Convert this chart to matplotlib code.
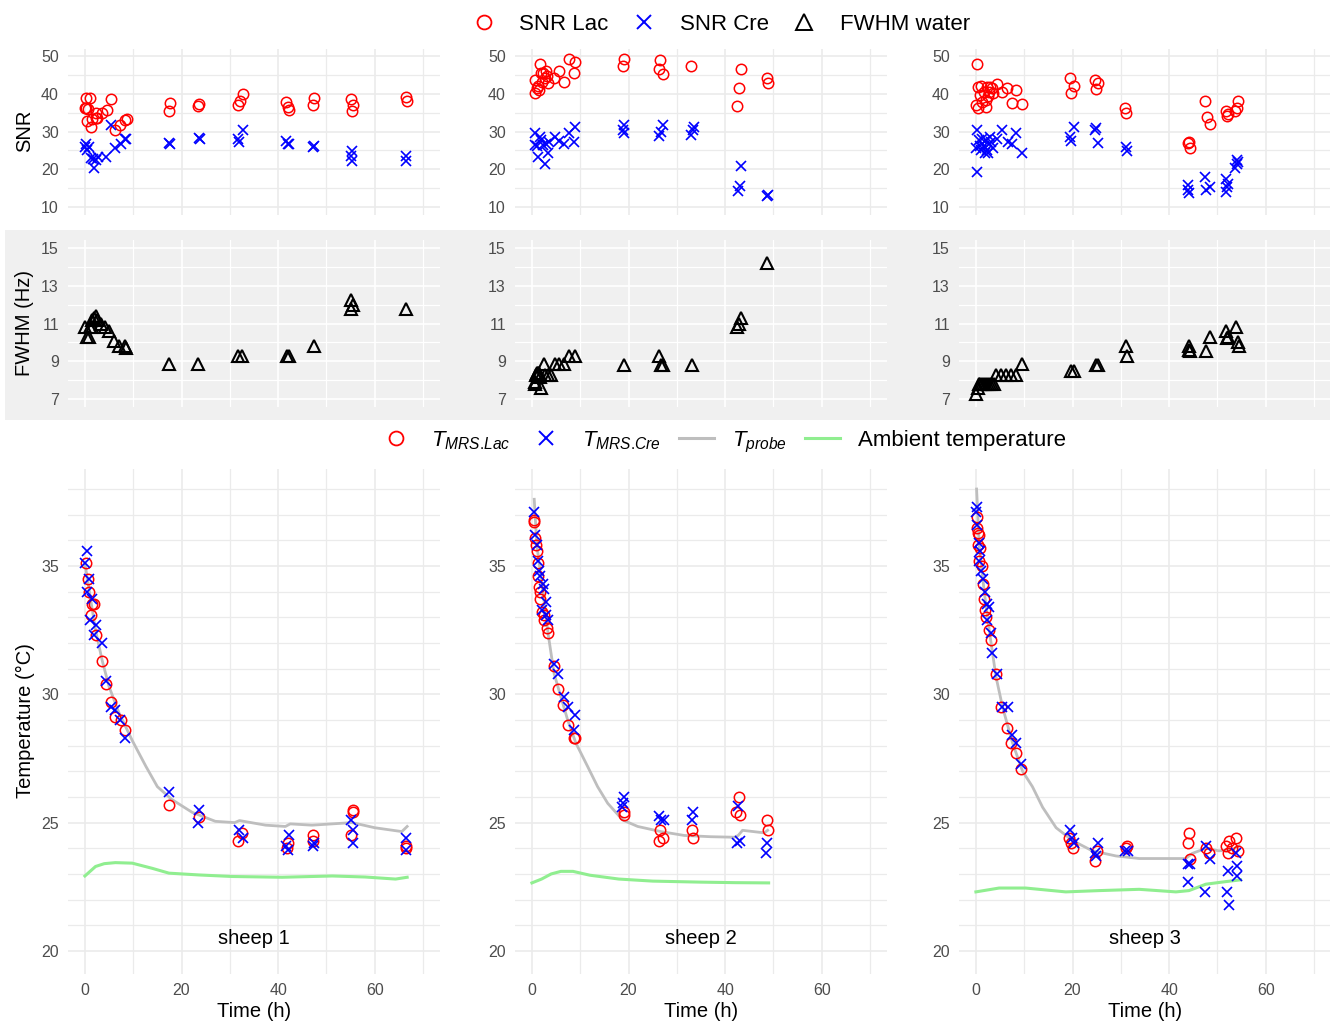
import matplotlib
matplotlib.use("Agg")
import matplotlib.pyplot as plt
from matplotlib.lines import Line2D
from matplotlib.patches import Rectangle

plt.rcParams["font.family"] = ["Liberation Sans", "DejaVu Sans"]
plt.rcParams["mathtext.fontset"] = "custom"
plt.rcParams["mathtext.rm"] = "Liberation Sans"
plt.rcParams["mathtext.it"] = "Liberation Sans:italic"

# ---------------- sheep 1 ----------------
s1_lac_t = [0, 0.28, 0.28, 0.69, 0.97, 0.48, 1.17, 1.52, 2.2, 2.2, 2.55, 3.45, 4.6, 5.45, 6.3, 7.2, 8.2, 8.75,
            17.4, 17.6, 23.4, 23.7, 31.7, 32.0, 32.7, 41.7, 42.0, 42.3, 47.2, 47.4, 55.0, 55.3, 55.5, 66.4, 66.6]
s1_lac = [36.1, 38.8, 36.1, 36.0, 38.8, 32.7, 31.1, 33.2, 33.5, 34.9, 33.6, 34.8, 35.8, 38.7, 30.5, 31.8, 33.0, 33.3,
          35.4, 37.5, 36.8, 37.4, 37.0, 38.0, 39.9, 37.9, 36.6, 35.7, 37.0, 38.8, 38.6, 35.5, 37.0, 39.2, 38.1]
s1_cre_t = [0, 0.28, 0.83, 0.48, 1.17, 1.86, 2.2, 1.72, 2.76, 4.3, 5.4, 6.3, 7.4, 8.3, 8.55,
            17.4, 17.6, 23.6, 23.8, 31.7, 31.9, 32.7, 41.7, 42.0, 42.3, 47.3, 47.4, 55.2, 55.0, 55.2, 66.4, 66.4]
s1_cre = [25.9, 26.8, 25.9, 25.0, 23.1, 20.2, 22.4, 22.8, 23.3, 23.3, 31.7, 25.7, 26.8, 27.9, 28.1,
          27.0, 26.6, 28.3, 28.0, 28.0, 27.3, 30.4, 27.5, 26.8, 26.6, 25.9, 26.1, 24.8, 23.5, 22.2, 23.5, 22.2]
s1_fw_t = [0, 0.48, 0.83, 1.0, 1.38, 1.5, 1.86, 2.2, 2.55, 3.24, 4.1, 4.97, 6.0, 7.03, 8.4, 8.6,
           17.5, 23.4, 31.7, 32.6, 41.9, 42.2, 47.4, 55.1, 55.4, 55.1, 66.5]
s1_fw = [10.8, 10.3, 10.3, 10.8, 10.8, 11.2, 11.3, 11.4, 11.2, 11.0, 10.8, 10.6, 10.1, 9.8, 9.8, 9.7,
         8.85, 8.85, 9.3, 9.3, 9.3, 9.3, 9.8, 12.25, 12.0, 11.76, 11.76]
s1_tlac_t = [0.28, 0.69, 0.83, 1.38, 1.86, 1.3, 2.2, 3.6, 4.4, 5.3, 6.2, 7.4, 8.4,
             17.4, 23.6, 31.7, 32.6, 42.0, 41.9, 47.2, 47.3, 55.0, 55.4, 55.5, 66.4, 66.5]
s1_tlac = [35.1, 34.5, 34.0, 33.5, 33.5, 33.1, 32.3, 31.3, 30.4, 29.7, 29.1, 29.0, 28.6,
           25.7, 25.2, 24.3, 24.6, 24.2, 24.0, 24.5, 24.3, 24.5, 25.4, 25.5, 24.1, 24.0]
s1_tcre_t = [0.4, 0, 0.83, 0.48, 1.38, 0.97, 2.3, 1.86, 3.6, 4.4, 5.3, 6.3, 7.2, 8.3,
             17.5, 23.6, 23.4, 31.9, 32.7, 42.2, 41.7, 42.0, 47.4, 47.3, 55.0, 55.4, 55.4, 66.4, 66.4]
s1_tcre = [35.6, 35.1, 34.5, 34.0, 33.7, 32.9, 32.7, 32.3, 32.0, 30.5, 29.5, 29.4, 29.0, 28.3,
           26.2, 25.5, 25.0, 24.7, 24.4, 24.5, 24.1, 23.95, 24.2, 24.1, 25.1, 24.7, 24.2, 24.4, 23.95]
s1_probe_t = [0, 2.2, 3.6, 5, 7, 9.8, 12.6, 15, 18, 22.2, 27, 31, 32, 37.4, 41.5, 42.5, 47, 55.3, 60, 65.6, 66.7]
s1_probe = [35.1, 32.5, 31.3, 30.3, 29.3, 28.2, 27.2, 26.4, 25.9, 25.4, 25.05, 25.0, 25.08, 24.9, 24.85, 24.95,
            24.9, 25.0, 24.8, 24.65, 24.85]
s1_amb_t = [0, 2.2, 4, 6.3, 9.8, 13.9, 17.4, 23.6, 30.5, 40.8, 51.2, 58, 64.3, 66.7]
s1_amb = [22.92, 23.29, 23.4, 23.44, 23.42, 23.22, 23.03, 22.96, 22.9, 22.87, 22.92, 22.88, 22.8, 22.87]

# ---------------- sheep 2 ----------------
s2_lac_t = [0.55, 0.69, 1.03, 1.24, 1.45, 1.59, 1.79, 2.07, 2.28, 2.62, 2.97, 3.17, 3.31, 4.55, 5.52, 6.55, 7.59,
            8.69, 8.83, 19.0, 18.8, 26.6, 26.4, 27.2, 33.0, 43.2, 42.8, 42.4, 48.7, 48.8]
s2_lac = [43.6, 40.1, 41.4, 42.0, 41.0, 47.9, 45.6, 43.2, 45.4, 44.3, 46.1, 44.7, 42.9, 44.3, 46.1, 43.2, 49.1,
          45.6, 48.5, 49.2, 47.4, 48.9, 46.5, 45.2, 47.3, 46.6, 41.4, 36.7, 44.3, 42.9]
s2_cre_t = [0.55, 0.55, 1.03, 1.24, 1.59, 1.93, 2.28, 2.62, 2.97, 3.31, 3.45, 4.69, 5.52, 6.55, 7.66, 8.69, 8.83,
            19.0, 19.0, 18.8, 26.4, 26.8, 27.1, 33.0, 33.3, 33.5, 42.6, 43.0, 43.3, 48.7, 48.9]
s2_cre = [29.6, 26.4, 26.1, 23.3, 28.6, 27.7, 26.4, 21.3, 26.6, 24.3, 27.3, 28.6, 27.5, 26.6, 29.6, 27.3, 31.1,
          29.6, 31.7, 30.4, 28.8, 30.0, 31.7, 29.0, 30.4, 31.1, 14.2, 15.5, 20.8, 12.9, 13.1]
s2_fw_t = [0.6, 0.69, 0.9, 1.0, 1.24, 1.4, 1.59, 1.93, 2.48, 2.62, 3.31, 3.86, 4.69, 5.52, 6.62, 7.59, 8.83,
           19.0, 26.4, 26.8, 27.1, 33.1, 42.5, 42.8, 43.3, 48.7]
s2_fw = [7.9, 7.8, 8.3, 8.4, 8.4, 8.4, 8.2, 7.6, 8.85, 8.3, 8.3, 8.3, 8.85, 8.85, 8.85, 9.3, 9.3,
         8.8, 9.3, 8.8, 8.8, 8.8, 10.8, 11.0, 11.3, 14.2]
s2_tlac_t = [0.48, 0.48, 0.62, 0.83, 1.03, 1.31, 1.31, 1.52, 1.72, 1.72, 2.0, 2.41, 2.55, 3.1, 3.38, 4.48, 5.45,
             6.34, 7.38, 8.62, 8.9, 18.97, 19.1, 26.55, 26.3, 27.2, 33.2, 33.4, 42.9, 42.2, 43.1, 48.6, 48.8]
s2_tlac = [36.8, 36.7, 36.1, 35.8, 35.6, 35.1, 34.6, 34.2, 34.0, 33.7, 33.2, 33.1, 32.9, 32.6, 32.4, 31.1, 30.2,
           29.6, 28.8, 28.3, 28.3, 25.4, 25.3, 24.7, 24.3, 24.4, 24.7, 24.4, 26.0, 25.4, 25.3, 25.1, 24.7]
s2_tcre_t = [0.48, 0.62, 1.03, 1.31, 1.52, 1.72, 2.2, 2.55, 2.9, 2.0, 2.9, 3.24, 4.62, 5.45, 6.69, 7.52, 8.9, 8.62,
             18.97, 18.76, 18.55, 26.3, 26.7, 27.4, 33.4, 33.2, 42.7, 42.55, 43.1, 48.6, 48.4]
s2_tcre = [37.1, 36.2, 35.8, 35.2, 34.8, 34.6, 34.3, 34.1, 33.6, 33.3, 33.1, 32.9, 31.2, 30.8, 29.9, 29.5, 29.2, 28.6,
           26.0, 25.75, 25.6, 25.25, 25.1, 25.1, 25.4, 25.1, 25.65, 24.2, 24.3, 24.2, 23.8]
s2_probe_t = [0.48, 1.03, 2.2, 3.4, 4.6, 6.0, 7.4, 9.1, 11.5, 13.6, 15.7, 18.8, 21.9, 26.7, 31.5, 37, 41.9, 42.7,
              43.6, 48.1, 48.8]
s2_probe = [37.6, 35.8, 34.1, 32.3, 30.8, 29.9, 29.0, 28.1, 27.2, 26.4, 25.75, 25.1, 24.85, 24.65, 24.5, 24.45,
            24.43, 24.5, 24.7, 24.6, 24.7]
s2_amb_t = [0, 2, 4, 6, 8.5, 12, 18, 25, 35, 42, 49]
s2_amb = [22.65, 22.8, 23.0, 23.1, 23.1, 22.95, 22.8, 22.72, 22.68, 22.66, 22.65]

# ---------------- sheep 3 ----------------
s3_lac_t = [0.28, 0.07, 0.41, 0.41, 0.76, 1.1, 1.31, 1.59, 2.0, 2.14, 2.28, 2.48, 2.69, 2.97, 3.24, 3.52, 4.34,
            5.38, 6.48, 7.52, 8.34, 9.52, 19.4, 19.7, 20.4, 24.6, 25.2, 24.9, 30.9, 31.1, 43.9, 44.2, 44.3,
            47.5, 47.9, 48.5, 51.7, 52.0, 52.2, 53.7, 54.0, 54.3]
s3_lac = [47.9, 37.0, 36.1, 41.9, 39.6, 42.1, 37.9, 40.5, 36.5, 38.3, 41.7, 39.4, 40.5, 41.9, 41.4, 40.3, 42.7,
          40.5, 41.4, 37.6, 41.0, 37.4, 44.1, 40.3, 42.0, 43.6, 42.9, 41.2, 36.1, 35.0, 27.0, 27.3, 25.5,
          38.1, 33.9, 32.1, 35.5, 34.1, 34.6, 35.5, 36.1, 38.1]
s3_cre_t = [0.21, 0.07, 0.28, 0.62, 0.9, 1.1, 1.31, 1.59, 1.79, 2.14, 2.28, 2.48, 2.69, 2.97, 3.17, 3.52, 4.34,
            5.45, 6.62, 7.52, 8.34, 9.59, 19.4, 19.7, 20.4, 24.6, 24.9, 25.2, 31.0, 31.2, 44.0, 44.0, 44.2,
            47.5, 47.6, 48.5, 51.8, 52.0, 52.2, 51.7, 53.7, 54.0, 54.3, 54.0]
s3_cre = [30.4, 25.5, 19.3, 27.7, 26.1, 25.0, 27.9, 26.1, 24.3, 27.7, 25.2, 24.2, 26.8, 28.6, 27.3, 25.7, 27.9,
          30.5, 27.3, 26.6, 29.5, 24.3, 28.6, 27.5, 31.1, 30.4, 30.8, 27.0, 25.9, 24.8, 15.8, 14.6, 13.7,
          18.0, 14.6, 15.3, 17.3, 15.3, 16.2, 14.0, 20.4, 21.3, 21.9, 22.4]
s3_fw_t = [0.07, 0.41, 0.62, 0.9, 1.3, 1.7, 2.1, 2.5, 2.9, 3.3, 3.8, 4.2, 5.2, 6.3, 7.3, 8.3, 9.6,
           19.7, 20.4, 24.9, 25.2, 31.0, 31.2, 44.2, 44.2, 44.3, 47.7, 48.4, 51.7, 52.0, 52.2, 53.9, 54.2, 54.4]
s3_fw = [7.3, 7.6, 7.8, 7.8, 7.8, 7.8, 7.8, 7.8, 7.8, 7.8, 7.8, 8.3, 8.3, 8.3, 8.3, 8.3, 8.85,
         8.5, 8.5, 8.8, 8.8, 9.8, 9.3, 9.8, 9.6, 9.55, 9.55, 10.3, 10.6, 10.25, 10.3, 10.8, 10.05, 9.8]
s3_tlac_t = [0.14, 0.14, 0.41, 0.69, 0.34, 0.83, 0.69, 1.24, 1.38, 1.72, 1.93, 2.07, 2.62, 3.1, 4.14, 5.17, 6.34,
             7.24, 8.28, 9.31, 19.3, 19.66, 20.1, 24.7, 25.0, 31.0, 31.2, 44.1, 44.0, 44.3, 47.6, 48.3,
             51.7, 52.3, 52.1, 53.9, 54.3, 53.1]
s3_tlac = [36.9, 36.5, 36.3, 36.2, 35.8, 35.7, 35.2, 35.0, 34.3, 33.7, 33.3, 33.0, 32.5, 32.1, 30.8, 29.5, 28.7,
           28.1, 27.7, 27.1, 24.4, 24.2, 24.0, 23.5, 23.9, 24.0, 24.1, 24.6, 24.2, 23.6, 24.0, 23.8,
           24.1, 24.3, 23.8, 24.4, 23.9, 24.0]
s3_tcre_t = [0.14, 0, 0.14, 0.55, 0.83, 0.69, 1.03, 1.52, 1.93, 2.2, 2.76, 2.2, 3.1, 3.31, 4.28, 5.38, 6.55, 7.45,
             8.28, 9.31, 19.4, 19.9, 20.3, 24.8, 25.2, 24.7, 30.9, 31.4, 44.0, 44.3, 43.9, 47.4, 47.7, 48.4,
             52.1, 51.9, 52.3, 53.9, 54.1, 54.1]
s3_tcre = [37.3, 37.1, 36.6, 35.9, 35.6, 35.2, 34.8, 34.5, 34.0, 33.5, 33.4, 32.9, 32.4, 31.6, 30.8, 29.5, 29.5, 28.4,
           28.1, 27.3, 24.7, 24.4, 24.2, 23.7, 24.2, 23.8, 23.9, 23.9, 23.4, 23.4, 22.7, 22.3, 24.1, 23.6,
           23.1, 22.3, 21.8, 23.8, 23.3, 22.9]
s3_probe_t = [0.14, 0.69, 1.72, 2.76, 4.14, 5.52, 7.59, 9.66, 11.7, 13.8, 16.6, 20, 24.1, 29, 33.8, 39.3, 43.4,
              44.8, 47.6, 50.3, 53.1, 54.5]
s3_probe = [38.0, 35.8, 34.0, 32.5, 30.7, 29.5, 28.1, 27.0, 26.4, 25.6, 24.8, 24.3, 23.9, 23.7, 23.6, 23.6, 23.6,
            23.8, 24.0, 23.9, 23.95, 24.1]
s3_amb_t = [0, 4.8, 10.3, 18.6, 25.5, 33.8, 41.4, 44.1, 47.6, 51.7, 54.8]
s3_amb = [22.3, 22.45, 22.45, 22.3, 22.35, 22.4, 22.3, 22.35, 22.6, 22.7, 22.77]

sheep_names = ["sheep 1", "sheep 2", "sheep 3"]
snr_lac = [(s1_lac_t, s1_lac), (s2_lac_t, s2_lac), (s3_lac_t, s3_lac)]
snr_cre = [(s1_cre_t, s1_cre), (s2_cre_t, s2_cre), (s3_cre_t, s3_cre)]
fwhm = [(s1_fw_t, s1_fw), (s2_fw_t, s2_fw), (s3_fw_t, s3_fw)]
t_lac = [(s1_tlac_t, s1_tlac), (s2_tlac_t, s2_tlac), (s3_tlac_t, s3_tlac)]
t_cre = [(s1_tcre_t, s1_tcre), (s2_tcre_t, s2_tcre), (s3_tcre_t, s3_tcre)]
t_probe = [(s1_probe_t, s1_probe), (s2_probe_t, s2_probe), (s3_probe_t, s3_probe)]
t_amb = [(s1_amb_t, s1_amb), (s2_amb_t, s2_amb), (s3_amb_t, s3_amb)]

W, H = 1330, 1023
fig = plt.figure(figsize=(W / 100, H / 100), dpi=100)

# grey band behind the FWHM row
fig.patches.append(Rectangle((5 / W, 1 - 420 / H), 1325 / W, 190 / H, transform=fig.transFigure,
                             facecolor="#F0F0F0", edgecolor="none", zorder=-10))

lefts = [68, 515, 959]
pw = 372


def style(ax, ylim, major, minor, gcol, show_x):
    ax.set_facecolor("none")
    ax.set_xlim(-3.5, 73.5)
    ax.set_xticks([0, 20, 40, 60])
    ax.set_xticks([10, 30, 50, 70], minor=True)
    ax.set_ylim(*ylim)
    ax.set_yticks(major)
    ax.set_yticks(minor, minor=True)
    ax.grid(True, which="major", color=gcol, lw=1.2)
    ax.grid(True, which="minor", color=gcol, lw=0.9)
    ax.set_axisbelow(True)
    for s in ax.spines.values():
        s.set_visible(False)
    ax.tick_params(which="both", length=0, labelsize=11.5, labelcolor="#4D4D4D", pad=6.5)
    if not show_x:
        ax.tick_params(axis="x", labelbottom=False)


circ = dict(ls="none", marker="o", mfc="none", mec="red", ms=7.5, mew=1.1)
cross = dict(ls="none", marker="x", color="blue", ms=7, mew=1.2)
tri = dict(ls="none", marker="^", mfc="none", mec="black", ms=9, mew=1.5)

for i in range(3):
    x0 = lefts[i] / W
    # SNR row
    ax = fig.add_axes([x0, 1 - 214.5 / H, pw / W, 166 / H])
    style(ax, (8, 52), [10, 20, 30, 40, 50], [15, 25, 35, 45], "#EBEBEB", False)
    ax.plot(*snr_lac[i], **circ)
    ax.plot(*snr_cre[i], **cross)

    # FWHM row
    ax = fig.add_axes([x0, 1 - 407 / H, pw / W, 167 / H])
    style(ax, (6.6, 15.4), [7, 9, 11, 13, 15], [8, 10, 12, 14], "white", False)
    ax.plot(*fwhm[i], **tri)

    # temperature row
    ax = fig.add_axes([x0, 1 - 974 / H, pw / W, 505.5 / H])
    style(ax, (19.1, 38.8), [20, 25, 30, 35],
          [v for v in range(20, 39) if v % 5 != 0], "#EBEBEB", True)
    ax.plot(*t_probe[i], color="#BEBEBE", lw=2.0)
    ax.plot(*t_amb[i], color="#90EE90", lw=2.2)
    ax.plot(*t_lac[i], **circ)
    ax.plot(*t_cre[i], **cross)
    ax.text(35, 20.5, sheep_names[i], ha="center", va="center", fontsize=14.5)
    ax.set_xlabel("Time (h)", fontsize=14.5, labelpad=3)

fig.text(25 / W, 1 - 131 / H, "SNR", rotation=90, ha="center", va="center", fontsize=14.5)
fig.text(25 / W, 1 - 323 / H, "FWHM (Hz)", rotation=90, ha="center", va="center", fontsize=14.5)
fig.text(25 / W, 1 - 721 / H, "Temperature (°C)", rotation=90, ha="center", va="center", fontsize=14.5)

top_handles = [
    Line2D([], [], ls="none", marker="o", mfc="none", mec="red", ms=10, mew=1.3),
    Line2D([], [], ls="none", marker="x", color="blue", ms=10, mew=1.4),
    Line2D([], [], ls="none", marker="^", mfc="none", mec="black", ms=11, mew=1.4),
]
fig.legend(top_handles, ["SNR Lac", "SNR Cre", "FWHM water"], loc="center",
           bbox_to_anchor=(718 / W, 1 - 24 / H), ncol=3, frameon=False, fontsize=16,
           handlelength=1.6, handletextpad=0.8, columnspacing=0.8)

bot_handles = [
    Line2D([], [], ls="none", marker="o", mfc="none", mec="red", ms=10, mew=1.3),
    Line2D([], [], ls="none", marker="x", color="blue", ms=10, mew=1.4),
    Line2D([], [], color="#BEBEBE", lw=2.2),
    Line2D([], [], color="#90EE90", lw=2.2),
]
fig.legend(bot_handles, [r"$T_{MRS\text{.}Lac}$", r"$T_{MRS\text{.}Cre}$", r"$T_{probe}$", "Ambient temperature"],
           loc="center", bbox_to_anchor=(722 / W, 1 - 442 / H), ncol=4, frameon=False, fontsize=16,
           handlelength=1.6, handletextpad=0.8, columnspacing=0.8)

fig.savefig("out.png", dpi=100)
